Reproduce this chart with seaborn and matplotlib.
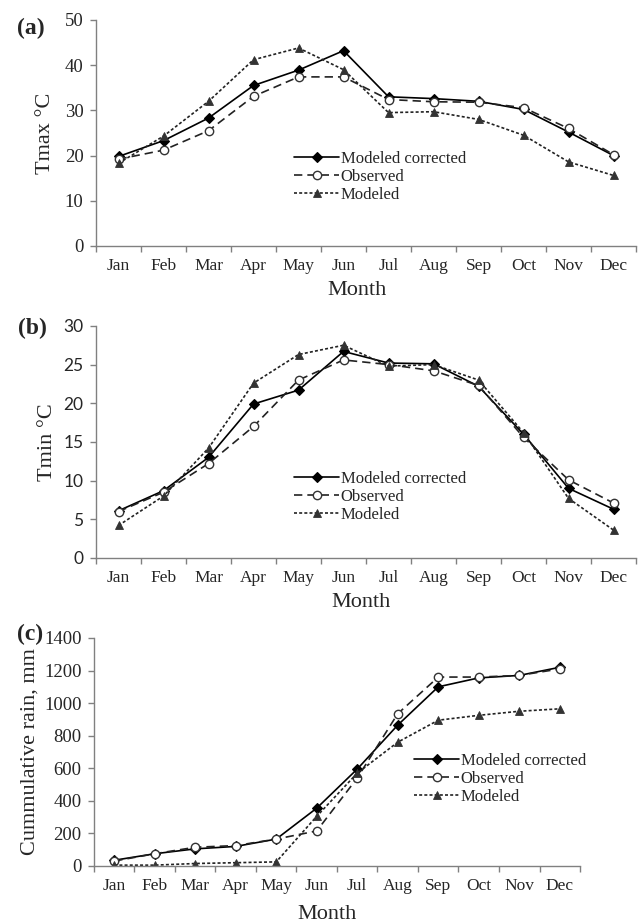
import numpy as np
import pandas as pd
import matplotlib
matplotlib.use('Agg')
import matplotlib.pyplot as plt
import seaborn as sns

# Datos
meses = ['Jan', 'Feb', 'Mar', 'Apr', 'May', 'Jun', 'Jul', 'Aug', 'Sep', 'Oct', 'Nov', 'Dec']
series = ['Modeled corrected', 'Observed', 'Modeled']

tmax_corregido = [19.8, 23.3, 28.3, 35.5, 38.9, 43.2, 33.0, 32.6, 32.0, 30.2, 25.2, 20.0]
tmax_observado = [19.2, 21.2, 25.5, 33.1, 37.4, 37.4, 32.4, 31.9, 31.8, 30.6, 26.0, 20.2]
tmax_modelado = [18.3, 24.3, 32.0, 41.2, 43.8, 39.0, 29.5, 29.7, 28.0, 24.5, 18.6, 15.6]

tmin_corregido = [6.1, 8.7, 13.0, 19.9, 21.7, 26.7, 25.2, 25.1, 22.2, 16.0, 9.0, 6.3]
tmin_observado = [6.0, 8.5, 12.2, 17.0, 23.0, 25.6, 25.0, 24.2, 22.3, 15.6, 10.1, 7.1]
tmin_modelado = [4.2, 8.0, 14.2, 22.6, 26.3, 27.5, 24.8, 25.0, 23.0, 16.2, 7.7, 3.6]

lluvia_corregida = [35, 75, 105, 120, 165, 355, 595, 865, 1100, 1155, 1170, 1220]
lluvia_observada = [30, 75, 115, 125, 165, 215, 540, 935, 1160, 1160, 1170, 1210]
lluvia_modelada = [5, 5, 15, 20, 25, 305, 570, 760, 895, 925, 950, 965]

sns.set_style('ticks')
plt.rcParams['font.family'] = ['Liberation Serif', 'DejaVu Serif']

gris = '#808080'
estilos = {
    'Modeled corrected': dict(color='black', linestyle='-', marker='D', markersize=5,
                              markerfacecolor='black', markeredgecolor='black', markeredgewidth=0.8),
    'Observed': dict(color='#222222', linestyle=(0, (5.0, 3.0)), marker='o', markersize=6,
                     markerfacecolor='white', markeredgecolor='#333333', markeredgewidth=1.0),
    'Modeled': dict(color='#222222', linestyle=(0, (1.8, 1.3)), marker='^', markersize=6,
                    markerfacecolor='#333333', markeredgecolor='#333333', markeredgewidth=0.6),
}


def dibujar_panel(fig, rect, valores, ylabel, yticks, letra, pos_letra, pos_leyenda,
                  pos_ylabel, pos_xlabel, fuente_yticks=None):
    ax = fig.add_axes(rect)
    for nombre, y in zip(series, valores):
        df = pd.DataFrame({'Month': meses, 'valor': y})
        sns.lineplot(data=df, x='Month', y='valor', ax=ax, sort=False, estimator=None,
                     lw=1.2, label=nombre, legend=False, **estilos[nombre])

    ax.set_xlim(-0.5, len(meses) - 0.5)
    ax.set_ylim(yticks[0], yticks[-1])
    ax.set_yticks(yticks)
    ax.set_xticks(range(len(meses)))
    ax.set_xticklabels(meses)
    ax.set_xticks(np.arange(-0.5, len(meses), 1), minor=True)

    for s in ['top', 'right']:
        ax.spines[s].set_visible(False)
    for s in ['left', 'bottom']:
        ax.spines[s].set_color(gris)
        ax.spines[s].set_linewidth(1.0)

    ax.tick_params(axis='x', which='major', length=0, pad=9, labelsize=12.5)
    ax.tick_params(axis='x', which='minor', length=4, width=1.0, color=gris, direction='out')
    ax.tick_params(axis='y', length=4, width=1.0, color=gris, direction='out', pad=5,
                   labelsize=13.5)
    if fuente_yticks is not None:
        for t in ax.get_yticklabels():
            t.set_fontfamily(fuente_yticks)
            t.set_fontsize(12.5)

    ax.set_ylabel(ylabel, fontsize=16)
    ax.yaxis.set_label_coords(*pos_ylabel)
    ax.set_xlabel('Month', fontsize=16)
    ax.xaxis.set_label_coords(*pos_xlabel)

    fig.text(pos_letra[0], pos_letra[1], letra, fontsize=17, fontweight='bold',
             ha='center', va='center')

    ax.legend(loc='upper left', bbox_to_anchor=pos_leyenda, bbox_transform=fig.transFigure,
              frameon=False, fontsize=12, handlelength=2.7, handletextpad=0.1,
              labelspacing=0.12, borderpad=0, borderaxespad=0)
    return ax


fig = plt.figure(figsize=(6.38, 9.23), dpi=100)

dibujar_panel(fig, [0.1505, 0.7335, 0.8464, 0.2449],
              [tmax_corregido, tmax_observado, tmax_modelado],
              'Tmax °C', [0, 10, 20, 30, 40, 50], '(a)', (31 / 638, 1 - 28 / 923),
              (294 / 638, 1 - 151 / 923), (-0.076, 0.5), (0.483, -0.155))

dibujar_panel(fig, [0.1505, 0.3955, 0.8464, 0.2514],
              [tmin_corregido, tmin_observado, tmin_modelado],
              'Tmin °C', [0, 5, 10, 15, 20, 25, 30], '(b)', (32 / 638, 1 - 328 / 923),
              (294 / 638, 1 - 471 / 923), (-0.072, 0.5), (0.49, -0.151),
              fuente_yticks=['Lato', 'DejaVu Sans'])

dibujar_panel(fig, [0.1473, 0.0618, 0.7618, 0.2470],
              [lluvia_corregida, lluvia_observada, lluvia_modelada],
              'Cummulative rain, mm', [0, 200, 400, 600, 800, 1000, 1200, 1400], '(c)',
              (30 / 638, 1 - 634 / 923),
              (414 / 638, 1 - 753 / 923), (-0.111, 0.5), (0.479, -0.171))

fig.savefig('out.png', dpi=100)
